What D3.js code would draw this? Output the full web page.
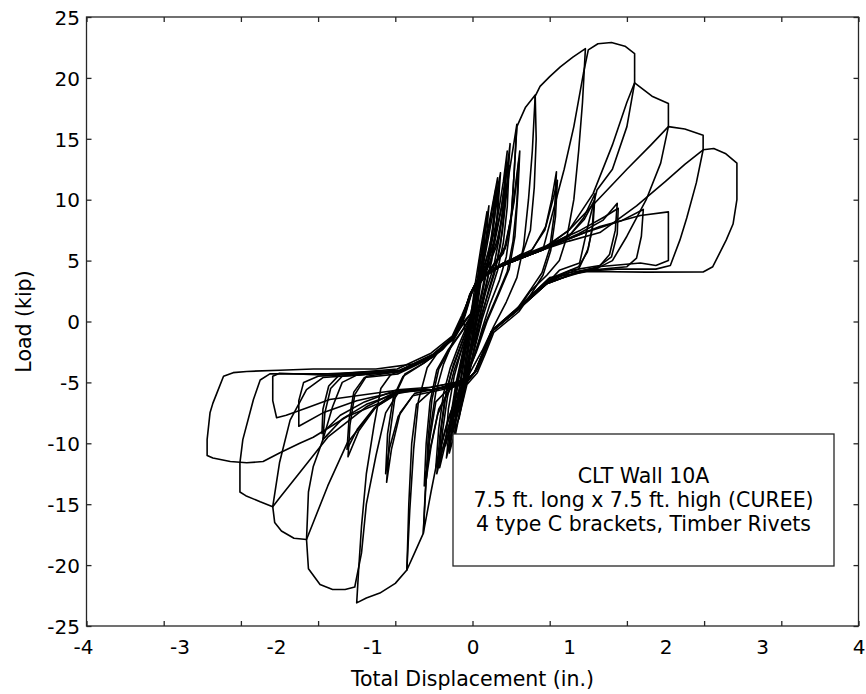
<!DOCTYPE html>
<html><head><meta charset="utf-8">
<script src="https://cdn.jsdelivr.net/npm/d3@7"></script>
<style>body{margin:0;background:#fff} text{font-family:"DejaVu Sans",Verdana,sans-serif;fill:#000}</style>
</head><body><svg id="c" width="866" height="694"></svg>
<script>
// ---- tick labels / tick marks ----
const xTickLabels = [-4,-3,-2,-1,0,1,2,3,4];
const xTickMarks  = [-4,-3.2,-2.4,-1.6,-0.8,0,0.8,1.6,2.4,3.2,4];
const yTickLabels = [-25,-20,-15,-10,-5,0,5,10,15,20,25];
const xTitle = "Total Displacement (in.)";
const yTitle = "Load (kip)";
const legendLines = ["CLT Wall 10A","7.5 ft. long x 7.5 ft. high (CUREE)","4 type C brackets, Timber Rivets"];

// ---- load–displacement cycles [displacement (in.), load (kip)] ----
const cyc01 = [[0,0],[0.03,2],[0.06,4],[0.08,5.5],[0.06,3.5],[0.03,1.2],[0,-1],[-0.03,-3],[-0.07,-5],[-0.1,-6.5],[-0.08,-4.5],[-0.05,-2.5],[-0.02,-0.5],[0,0]];
const cyc02 = [[0,0],[0.04,2.5],[0.08,5],[0.12,7.2],[0.1,4.8],[0.06,2.2],[0.02,-0.5],[-0.03,-3],[-0.08,-5.5],[-0.14,-8],[-0.11,-5.5],[-0.07,-3],[-0.03,-1],[0,0]];
const cyc03 = [[0,0.3],[0.05,3],[0.1,6],[0.17,9.5],[0.14,6.5],[0.1,4],[0.05,1.2],[0,-1.5],[-0.06,-4.5],[-0.12,-7],[-0.19,-9.8],[-0.16,-6.8],[-0.11,-4],[-0.05,-1.5],[0,0.3]];
const cyc03b = [[-0.02,0.3],[0.03,3.2],[0.09,6.2],[0.15,9],[0.12,6.2],[0.08,3.8],[0.03,1],[-0.03,-1.8],[-0.09,-4.6],[-0.15,-7.2],[-0.21,-9.2],[-0.18,-6.4],[-0.13,-3.8],[-0.07,-1.3],[-0.02,0.3]];
const cyc04 = [[0,0.3],[0.04,2.8],[0.1,5],[0.17,8],[0.26,11.8],[0.23,8.5],[0.18,5.5],[0.12,3],[0.06,0.8],[0,-1.8],[-0.07,-4.8],[-0.15,-7.5],[-0.27,-11.2],[-0.23,-8],[-0.17,-5],[-0.1,-2.5],[-0.03,-0.5],[0,0.3]];
const cyc04b = [[0.02,0.5],[0.07,3],[0.13,5.4],[0.2,8.4],[0.29,12.2],[0.26,8.8],[0.21,5.8],[0.15,3.2],[0.09,1],[0.03,-1.6],[-0.04,-4.6],[-0.12,-7.2],[-0.24,-10.8],[-0.2,-7.6],[-0.14,-4.6],[-0.07,-2.2],[0,-0.2],[0.02,0.5]];
const cyc05 = [[0,0.3],[0.04,2.6],[0.1,4.8],[0.17,7.6],[0.24,10.8],[0.21,7.8],[0.16,5],[0.1,2.6],[0.04,0.4],[-0.02,-2],[-0.08,-4.6],[-0.16,-7.2],[-0.25,-10.5],[-0.21,-7.4],[-0.15,-4.6],[-0.08,-2.2],[-0.02,-0.3],[0,0.3]];
const cyc06 = [[0,0.3],[0.04,2.6],[0.12,4.6],[0.2,6.5],[0.27,9],[0.32,11.5],[0.36,14],[0.33,10.5],[0.28,7],[0.22,4.5],[0.14,2.5],[0.07,0.3],[0,-2],[-0.07,-4.8],[-0.16,-6.5],[-0.24,-8.5],[-0.31,-10.5],[-0.37,-12.5],[-0.34,-9.5],[-0.29,-6.5],[-0.22,-4.2],[-0.13,-2.2],[-0.05,-0.5],[0,0.3]];
const cyc06b = [[0,0.3],[0.06,2.8],[0.15,4.8],[0.23,6.8],[0.3,9.4],[0.35,12],[0.39,14.6],[0.36,11],[0.31,7.4],[0.25,4.8],[0.17,2.7],[0.1,0.5],[0.03,-1.8],[-0.05,-4.6],[-0.13,-6.4],[-0.21,-8.2],[-0.28,-10],[-0.34,-12],[-0.31,-9],[-0.26,-6.2],[-0.19,-4],[-0.1,-2],[-0.03,-0.3],[0,0.3]];
const cyc07 = [[0,0.3],[0.05,2.7],[0.13,4.6],[0.2,7],[0.27,11],[0.25,8],[0.2,5],[0.13,2.7],[0.06,0.5],[-0.01,-2],[-0.08,-4.7],[-0.17,-7],[-0.28,-10.2],[-0.25,-7.2],[-0.19,-4.5],[-0.11,-2.2],[-0.03,-0.3],[0,0.3]];
const cyc08 = [[0,0.3],[0.04,2.6],[0.15,4.3],[0.25,6.2],[0.32,9],[0.38,12.2],[0.46,16.2],[0.43,12],[0.4,8.2],[0.35,5.3],[0.28,3.4],[0.18,1.4],[0.1,-0.6],[0.03,-2.6],[-0.06,-4.6],[-0.16,-6],[-0.26,-8.2],[-0.36,-11.2],[-0.43,-14],[-0.51,-17.4],[-0.48,-13],[-0.44,-9],[-0.38,-5.8],[-0.3,-3.5],[-0.2,-1.6],[-0.09,0],[0,0.8]];
const cyc09 = [[0,0.8],[0.04,2.8],[0.14,4.4],[0.23,6.5],[0.3,9.3],[0.35,12.5],[0.33,9.2],[0.29,6.3],[0.23,4],[0.15,2],[0.07,0],[0,-2.2],[-0.08,-4.7],[-0.18,-6.4],[-0.27,-8.6],[-0.33,-10.4],[-0.38,-12],[-0.35,-8.8],[-0.3,-5.9],[-0.23,-3.8],[-0.14,-1.9],[-0.05,-0.2],[0,0.5]];
const cyc09b = [[0,0.6],[0.06,3],[0.17,4.6],[0.26,6.8],[0.33,9.6],[0.38,12.8],[0.36,9.4],[0.32,6.5],[0.26,4.2],[0.18,2.2],[0.1,0.2],[0.03,-2],[-0.05,-4.5],[-0.15,-6.2],[-0.24,-8.4],[-0.3,-10.2],[-0.35,-11.6],[-0.32,-8.6],[-0.27,-5.7],[-0.2,-3.6],[-0.11,-1.7],[-0.03,0],[0,0.6]];
const cyc10 = [[0,0.5],[0.05,3],[0.2,4.4],[0.32,5.6],[0.4,8.5],[0.43,12],[0.46,16],[0.55,17.6],[0.65,18.6],[0.62,14],[0.58,10],[0.53,6.2],[0.46,3.6],[0.35,1.6],[0.22,-0.4],[0.1,-2.4],[-0.04,-4.4],[-0.22,-5.3],[-0.38,-6.6],[-0.45,-10],[-0.49,-14],[-0.51,-17.4],[-0.6,-19],[-0.68,-20.4],[-0.65,-15.5],[-0.61,-10.5],[-0.56,-6.5],[-0.47,-3.8],[-0.32,-2.1],[-0.16,-0.9],[-0.02,0.6]];
const cyc11 = [[-0.02,0.6],[0.04,2.7],[0.2,4.5],[0.34,6],[0.42,9.5],[0.49,14],[0.47,10.5],[0.44,7],[0.38,4.3],[0.28,2.4],[0.15,0],[0.04,-2.5],[-0.07,-4.6],[-0.22,-5.4],[-0.35,-7.2],[-0.44,-10.5],[-0.5,-13.5],[-0.48,-10],[-0.44,-6.6],[-0.37,-4],[-0.25,-2.3],[-0.12,-0.9],[0,0.6]];
const cyc12 = [[0,0.6],[0.05,2.9],[0.22,4.6],[0.35,6.3],[0.43,9.8],[0.48,13.2],[0.46,9.8],[0.42,6.6],[0.36,4.1],[0.26,2.2],[0.13,-0.2],[0.02,-2.7],[-0.09,-4.8],[-0.24,-5.6],[-0.36,-7.6],[-0.43,-10.3],[-0.48,-13],[-0.46,-9.6],[-0.42,-6.4],[-0.35,-3.9],[-0.23,-2.2],[-0.1,-0.7],[0,0.7]];
const cyc13 = [[-0.1,0.5],[-0.03,2.1],[0.05,3.4],[0.28,4.5],[0.52,5.6],[0.6,7.5],[0.64,11],[0.66,15],[0.65,18.5],[0.7,19.3],[0.8,20.1],[0.91,20.9],[1.04,21.7],[1.17,22.4],[1.14,18],[1.1,14],[1.05,10],[0.98,7],[0.9,5],[0.77,3.8],[0.6,2.5],[0.46,0.9],[0.2,-0.8],[0.11,-2.6],[0.03,-4.1],[-0.07,-5],[-0.22,-5.3],[-0.41,-5.6],[-0.58,-6.8],[-0.63,-10],[-0.66,-15],[-0.68,-20.4],[-0.8,-21.5],[-0.96,-22.3],[-1.1,-22.7],[-1.2,-23.1],[-1.18,-20.4],[-1.15,-16.8],[-1.1,-12.5],[-1.02,-8.5],[-0.95,-5.5],[-0.85,-4.4],[-0.75,-4.0],[-0.41,-2.8],[-0.2,-1.3],[-0.1,0.3]];
const cyc14 = [[-0.1,0.3],[-0.02,2.2],[0.06,3.5],[0.3,4.6],[0.6,5.7],[0.75,7.5],[0.82,10],[0.87,12.3],[0.85,9],[0.8,6],[0.72,4],[0.6,2.6],[0.46,1],[0.21,-0.7],[0.12,-2.5],[0.04,-4],[-0.06,-4.9],[-0.3,-5.4],[-0.6,-5.9],[-0.75,-7.5],[-0.84,-10.5],[-0.89,-13.2],[-0.86,-9.5],[-0.8,-6],[-0.7,-4.3],[-0.5,-3.4],[-0.3,-2.2],[-0.17,-1],[-0.08,0.4]];
const cyc15 = [[-0.08,0.4],[-0.01,2.3],[0.07,3.6],[0.32,4.8],[0.62,5.9],[0.76,7.8],[0.84,10.2],[0.88,11.6],[0.86,8.6],[0.81,5.8],[0.73,3.8],[0.62,2.4],[0.48,0.8],[0.22,-0.9],[0.13,-2.7],[0.05,-4.2],[-0.05,-5.1],[-0.32,-5.6],[-0.62,-6.1],[-0.77,-7.8],[-0.86,-10.4],[-0.9,-12.5],[-0.88,-9.2],[-0.82,-6.2],[-0.72,-4.5],[-0.52,-3.5],[-0.31,-2.3],[-0.18,-1.1],[-0.09,0.3]];
const cyc16 = [[-0.09,0.3],[-0.02,2.1],[0.05,3.3],[0.28,4.5],[0.73,5.9],[0.85,9.5],[0.95,12.5],[1.05,16],[1.15,20.4],[1.2,22.3],[1.3,22.8],[1.44,22.9],[1.58,22.6],[1.68,22],[1.68,19.6],[1.6,16],[1.45,12.5],[1.29,10.8],[1.2,8],[1.11,4.8],[0.9,4.2],[0.77,3.1],[0.46,0.9],[0.2,-0.8],[0.11,-2.6],[0.03,-4.1],[-0.07,-5],[-0.23,-5.2],[-0.41,-5.6],[-0.75,-5.6],[-0.9,-7.5],[-1.0,-11],[-1.1,-15],[-1.15,-19],[-1.22,-21.8],[-1.32,-22],[-1.45,-22],[-1.58,-21.6],[-1.7,-20.3],[-1.72,-17.9],[-1.7,-14],[-1.65,-11.9],[-1.55,-9.7],[-1.45,-7],[-1.35,-5],[-1.2,-4.4],[-0.75,-4.1],[-0.41,-2.9],[-0.2,-1.4],[-0.1,0.4]];
const cyc17 = [[-0.1,0.4],[-0.03,2.2],[0.05,3.4],[0.28,4.5],[0.73,5.9],[1.0,7],[1.15,8.5],[1.27,10.5],[1.25,8],[1.2,6],[1.1,4.3],[0.77,3.3],[0.46,1],[0.2,-0.8],[0.11,-2.6],[0.03,-4.1],[-0.07,-5],[-0.41,-5.6],[-0.75,-5.7],[-1.0,-7],[-1.18,-9],[-1.29,-11.1],[-1.27,-8.5],[-1.22,-6],[-1.1,-4.5],[-0.75,-4.1],[-0.41,-2.8],[-0.2,-1.4],[-0.1,0.4]];
const cyc18 = [[-0.1,0.4],[-0.01,2.4],[0.07,3.6],[0.31,4.7],[0.76,6.1],[1.02,7.2],[1.16,8.4],[1.26,9.9],[1.24,7.6],[1.19,5.7],[1.1,4.5],[0.79,3.5],[0.48,1.2],[0.22,-0.6],[0.13,-2.4],[0.05,-3.9],[-0.05,-4.8],[-0.43,-5.4],[-0.77,-5.9],[-1.02,-7.1],[-1.19,-8.8],[-1.3,-10.5],[-1.28,-8.1],[-1.23,-5.8],[-1.12,-4.6],[-0.77,-4.3],[-0.43,-3.0],[-0.21,-1.5],[-0.11,0.2]];
const cyc19 = [[-0.11,0.2],[-0.02,2.3],[0.06,3.5],[0.3,4.6],[0.75,6.1],[1.0,7.5],[1.25,10.5],[1.45,14.5],[1.6,18],[1.68,19.6],[1.86,18.5],[2.03,17.9],[2.03,16],[1.95,13],[1.8,10],[1.6,7],[1.45,5],[1.3,4.4],[1.1,4.1],[0.77,3.1],[0.46,0.9],[0.2,-0.8],[0.1,-2.7],[0.02,-4.2],[-0.08,-5.1],[-0.41,-5.6],[-0.75,-5.6],[-1.0,-7],[-1.3,-10],[-1.5,-13.5],[-1.65,-16.5],[-1.72,-17.9],[-1.85,-17.8],[-1.98,-17.2],[-2.05,-16.5],[-2.07,-15.2],[-2.0,-11.6],[-1.89,-8.1],[-1.72,-5.6],[-1.55,-4.6],[-1.2,-4.4],[-0.75,-4.0],[-0.41,-2.7],[-0.2,-1.3],[-0.1,0.4]];
const cyc20 = [[-0.1,0.4],[-0.03,2.1],[0.04,3.3],[0.28,4.5],[0.73,5.9],[1.1,7.2],[1.35,8.3],[1.5,9.7],[1.48,7.5],[1.42,5.5],[1.3,4.4],[1.0,4.0],[0.77,3.2],[0.46,1],[0.19,-0.9],[0.1,-2.7],[0.02,-4.2],[-0.08,-5],[-0.41,-5.6],[-0.75,-5.8],[-1.1,-6.8],[-1.35,-8],[-1.55,-9.7],[-1.53,-7.5],[-1.47,-5.5],[-1.35,-4.5],[-0.75,-4.1],[-0.41,-2.8],[-0.2,-1.4],[-0.1,0.3]];
const cyc21 = [[-0.1,0.3],[-0.01,2.4],[0.07,3.6],[0.32,4.8],[0.76,6.2],[1.12,7.5],[1.37,8.6],[1.51,9.3],[1.5,7.2],[1.44,5.3],[1.32,4.6],[1.02,4.2],[0.8,3.4],[0.48,1.2],[0.22,-0.6],[0.13,-2.4],[0.05,-3.9],[-0.05,-4.8],[-0.43,-5.4],[-0.78,-5.6],[-1.12,-6.6],[-1.37,-7.7],[-1.56,-9.2],[-1.55,-7.2],[-1.49,-5.3],[-1.37,-4.3],[-0.78,-3.9],[-0.43,-2.6],[-0.21,-1.2],[-0.11,0.5]];
const cyc22 = [[-0.11,0.5],[-0.02,2.2],[0.05,3.4],[0.28,4.5],[0.73,5.9],[1.0,7.5],[1.3,10],[1.6,12.5],[1.85,14.5],[2.03,16],[2.2,15.8],[2.39,15.3],[2.39,14.1],[2.32,11.4],[2.22,8.5],[2.15,6.7],[2.05,4.6],[1.9,4.3],[1.5,4.3],[1.11,4.1],[0.77,3.1],[0.46,0.9],[0.2,-0.8],[0.11,-2.6],[0.03,-4.1],[-0.07,-5],[-0.41,-5.6],[-0.75,-5.6],[-1.1,-7],[-1.5,-9.5],[-1.8,-12.5],[-2.0,-14.5],[-2.07,-15.2],[-2.2,-14.8],[-2.35,-14.3],[-2.41,-14],[-2.41,-11.6],[-2.38,-9.7],[-2.27,-6.4],[-2.2,-4.8],[-2.1,-4.3],[-1.5,-4.3],[-0.75,-4.0],[-0.41,-2.8],[-0.2,-1.4],[-0.1,0.4]];
const cyc23 = [[-0.1,0.4],[-0.02,2.3],[0.06,3.5],[0.3,4.6],[0.75,6.0],[1.2,7.4],[1.55,8.3],[1.77,9.2],[1.75,7],[1.7,5.2],[1.6,4.5],[1.2,4.2],[0.77,3.2],[0.46,1],[0.21,-0.7],[0.12,-2.5],[0.04,-4],[-0.06,-4.9],[-0.41,-5.6],[-0.75,-5.7],[-1.2,-6.5],[-1.55,-7.5],[-1.8,-8.6],[-1.8,-6.5],[-1.75,-5],[-1.6,-4.5],[-0.75,-4.1],[-0.41,-2.8],[-0.2,-1.4],[-0.1,0.4]];
const cyc24 = [[-0.1,0.4],[-0.03,2.1],[0.05,3.3],[0.28,4.5],[0.73,5.9],[1.0,6.6],[1.32,7.3],[1.7,9.5],[2.0,11.5],[2.2,12.9],[2.39,14.1],[2.5,14.2],[2.62,13.8],[2.74,13],[2.74,10],[2.7,8],[2.63,6.7],[2.49,4.5],[2.39,4.06],[1.8,4.05],[1.2,4.1],[0.8,3.6],[0.46,1],[0.2,-0.8],[0.11,-2.6],[0.03,-4.1],[-0.07,-5],[-0.41,-5.6],[-0.75,-5.6],[-0.96,-6.7],[-1.3,-7.8],[-1.65,-9.5],[-1.79,-10],[-2.0,-10.8],[-2.17,-11.5],[-2.34,-11.6],[-2.51,-11.5],[-2.69,-11.2],[-2.75,-11],[-2.75,-9.7],[-2.72,-7.5],[-2.69,-6.7],[-2.65,-5.9],[-2.58,-4.5],[-2.48,-4.2],[-2.34,-4.1],[-2.0,-4.0],[-1.65,-3.9],[-1.0,-3.9],[-0.62,-3.5],[-0.41,-2.7],[-0.2,-1.3],[-0.1,0.4]];
const cyc25 = [[-0.1,0.4],[-0.02,2.2],[0.05,3.4],[0.28,4.5],[0.73,5.9],[1.0,6.8],[1.32,7.8],[1.74,8.7],[2.03,9.0],[2.03,7],[2.03,5.0],[1.9,4.6],[1.74,4.8],[1.3,4.5],[1.11,4.1],[0.77,3.1],[0.46,0.9],[0.2,-0.8],[0.11,-2.6],[0.03,-4.1],[-0.07,-5],[-0.41,-5.6],[-0.75,-5.6],[-1.48,-6.4],[-1.72,-7.1],[-1.93,-7.7],[-2.03,-7.9],[-2.07,-6.5],[-2.07,-4.5],[-2.0,-4.25],[-1.5,-4.4],[-0.75,-4.1],[-0.41,-2.8],[-0.2,-1.4],[-0.1,0.4]];
const cycEnd = [[-0.1,0.4],[-0.06,-1.5],[-0.1,-4],[-0.15,-6.2],[-0.19,-7.8]];

const cycles = [cyc01,cyc02,cyc03,cyc03b,cyc04,cyc04b,cyc05,cyc06,cyc06b,cyc07,cyc08,cyc09,cyc09b,cyc10,cyc11,cyc12,cyc13,
  cyc14,cyc15,cyc16,cyc17,cyc18,cyc19,cyc20,cyc21,cyc22,cyc23,cyc24,cyc25,cycEnd];

// ---- drawing ----
const W=866,H=694, L=86.5, R=858.5, T=17, B=626;
const AX="#262626";
const svg=d3.select("#c");
svg.append("rect").attr("width",W).attr("height",H).attr("fill","#fff");

const x=d3.scaleLinear().domain([-4,4]).range([L,R]);
const y=d3.scaleLinear().domain([-25,25]).range([B,T]);

const line=d3.line().x(d=>x(d[0])).y(d=>y(d[1]));
svg.append("g").selectAll("path").data(cycles).join("path")
  .attr("d",line).attr("fill","none").attr("stroke","#000")
  .attr("stroke-width",1.6).attr("stroke-linejoin","round");

// frame
svg.append("rect").attr("x",L).attr("y",T).attr("width",R-L).attr("height",B-T)
  .attr("fill","none").attr("stroke",AX).attr("stroke-width",1.3);

function styleAxis(g){ g.select(".domain").remove(); g.selectAll("line").attr("stroke",AX).attr("stroke-width",1.3); }

// tick marks (inward) on all four sides
svg.append("g").attr("transform",`translate(0,${B})`)
  .call(d3.axisBottom(x).tickValues(xTickMarks).tickSizeInner(-5).tickSizeOuter(0).tickFormat(""))
  .call(styleAxis);
svg.append("g").attr("transform",`translate(0,${T})`)
  .call(d3.axisTop(x).tickValues(xTickMarks).tickSizeInner(-5).tickSizeOuter(0).tickFormat(""))
  .call(styleAxis);
svg.append("g").attr("transform",`translate(${R},0)`)
  .call(d3.axisRight(y).tickValues(yTickLabels).tickSizeInner(-5).tickSizeOuter(0).tickFormat(""))
  .call(styleAxis);

// left axis with labels
const gl=svg.append("g").attr("transform",`translate(${L},0)`)
  .call(d3.axisLeft(y).tickValues(yTickLabels).tickSizeInner(-5).tickSizeOuter(0).tickPadding(6.5).tickFormat(d=>String(d)))
  .call(styleAxis);
gl.selectAll("text").attr("font-size",20).attr("font-family","DejaVu Sans").attr("fill","#000").attr("dy","0.36em");

// bottom labels
const tmp=svg.append("text").attr("font-size",20).text("-");
const hy=tmp.node().getComputedTextLength(); tmp.remove();
const gb=svg.append("g").attr("transform",`translate(0,${B})`)
  .call(d3.axisBottom(x).tickValues(xTickLabels).tickSize(0).tickFormat(d=>String(d)))
  .call(g=>g.select(".domain").remove());
gb.selectAll("text").attr("font-size",20).attr("font-family","DejaVu Sans").attr("fill","#000")
  .attr("y",28).attr("dy",null).attr("dx",d=>d<0?-hy/2:0);

// titles
svg.append("text").attr("x",(L+R)/2).attr("y",686).attr("text-anchor","middle")
  .attr("font-size",20.5).text(xTitle);
svg.append("text").attr("transform",`translate(31,${(T+B)/2}) rotate(-90)`).attr("text-anchor","middle")
  .attr("font-size",20.5).text(yTitle);

// legend box
const lg=svg.append("g");
lg.append("rect").attr("x",453).attr("y",434).attr("width",381).attr("height",132)
  .attr("fill","#fff").attr("stroke",AX).attr("stroke-width",1.3);
lg.selectAll("text.l").data(legendLines).join("text").attr("class","l")
  .attr("x",643.5).attr("y",(d,i)=>483+i*24).attr("text-anchor","middle")
  .attr("font-size",20.5).text(d=>d);
</script></body></html>
